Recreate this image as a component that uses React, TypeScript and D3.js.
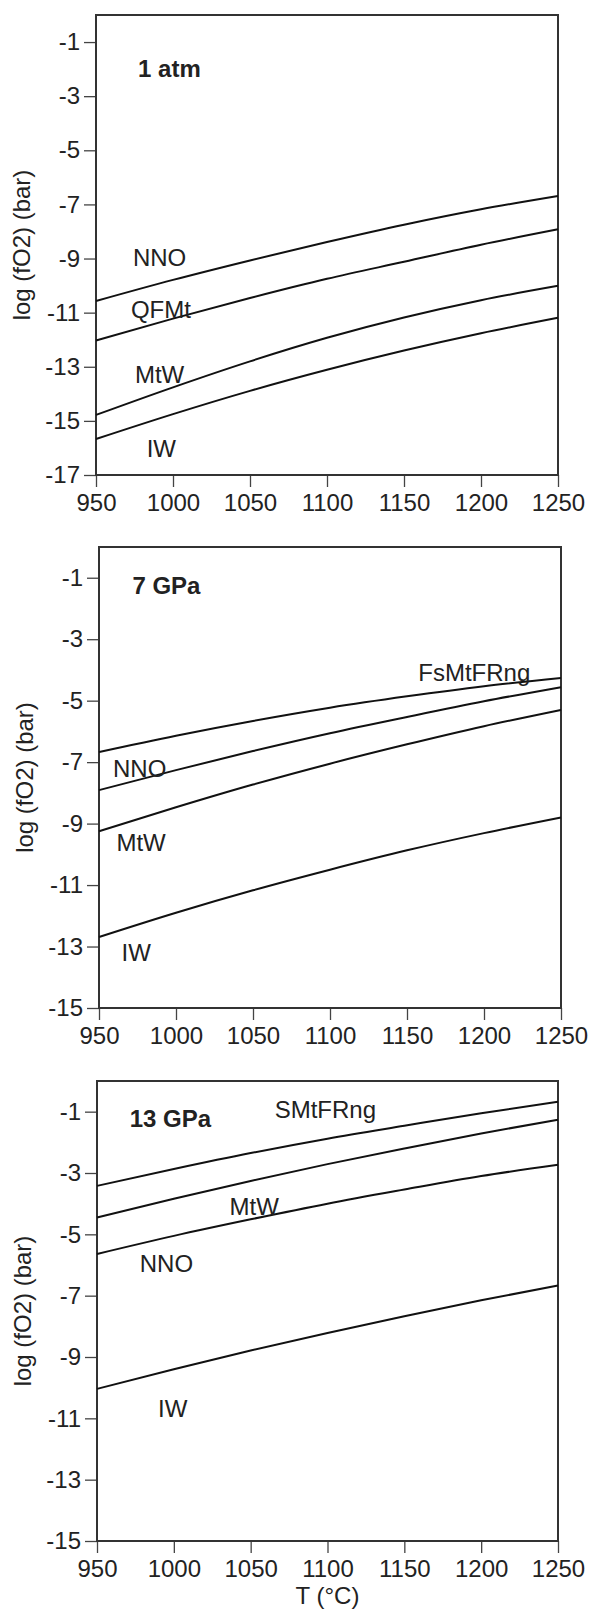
import React, { useRef, useEffect } from 'react';
import * as d3 from 'd3';

const width = 592;
const height = 1611;
const FONT = '"Liberation Sans", Arial, Helvetica, sans-serif';

// temperatures (°C) at which the buffer curves were read
const TEMPS = [950, 1000, 1050, 1100, 1150, 1200, 1250];
const X_TICKS = [950, 1000, 1050, 1100, 1150, 1200, 1250];

// 1 atm
const ATM_NNO = [-10.57, -9.79, -9.07, -8.39, -7.75, -7.18, -6.69];
const ATM_QFMT = [-12.03, -11.22, -10.46, -9.75, -9.12, -8.49, -7.92];
const ATM_MTW = [-14.78, -13.76, -12.8, -11.93, -11.18, -10.54, -10.01];
const ATM_IW = [-15.67, -14.75, -13.89, -13.11, -12.4, -11.76, -11.19];
const ATM_TICKS = [-1, -3, -5, -7, -9, -11, -13, -15, -17];

// 7 GPa
const GPA7_FSMTFRNG = [-6.67, -6.14, -5.66, -5.23, -4.86, -4.53, -4.26];
const GPA7_NNO = [-7.91, -7.26, -6.64, -6.06, -5.53, -5.02, -4.56];
const GPA7_MTW = [-9.25, -8.47, -7.73, -7.05, -6.42, -5.83, -5.3];
const GPA7_IW = [-12.69, -11.9, -11.17, -10.5, -9.87, -9.31, -8.8];

// 13 GPa
const GPA13_SMTFRNG = [-3.42, -2.87, -2.35, -1.88, -1.46, -1.05, -0.68];
const GPA13_MTW = [-4.45, -3.84, -3.26, -2.71, -2.2, -1.71, -1.26];
const GPA13_NNO = [-5.64, -5.05, -4.51, -4.0, -3.54, -3.1, -2.73];
const GPA13_IW = [-10.04, -9.4, -8.79, -8.22, -7.67, -7.15, -6.67];
const GPA_TICKS = [-1, -3, -5, -7, -9, -11, -13, -15];

// curve labels, anchored in data units (T, log fO2)
const ATM_LABELS = [
  { text: 'NNO', t: 974, v: -9.26 },
  { text: 'QFMt', t: 972.7, v: -11.21 },
  { text: 'MtW', t: 975.3, v: -13.61 },
  { text: 'IW', t: 982.9, v: -16.32 },
];
const GPA7_LABELS = [
  { text: 'FsMtFRng', t: 1157.3, v: -4.37 },
  { text: 'NNO', t: 959.1, v: -7.48 },
  { text: 'MtW', t: 961.3, v: -9.89 },
  { text: 'IW', t: 964.6, v: -13.47 },
];
const GPA13_LABELS = [
  { text: 'SMtFRng', t: 1065.6, v: -1.22 },
  { text: 'MtW', t: 1036.3, v: -4.37 },
  { text: 'NNO', t: 977.8, v: -6.22 },
  { text: 'IW', t: 989.7, v: -10.95 },
];

const panels = [
  {
    title: '1 atm', titleAt: [977.3, -2.28], yMin: -17, yTicks: ATM_TICKS,
    series: [ATM_NNO, ATM_QFMT, ATM_MTW, ATM_IW], labels: ATM_LABELS,
    frame: { left: 96, top: 15, right: 558, bottom: 475 },
  },
  {
    title: '7 GPa', titleAt: [971.7, -1.52], yMin: -15, yTicks: GPA_TICKS,
    series: [GPA7_FSMTFRNG, GPA7_NNO, GPA7_MTW, GPA7_IW], labels: GPA7_LABELS,
    frame: { left: 99, top: 547, right: 561, bottom: 1008 },
  },
  {
    title: '13 GPa', titleAt: [971.3, -1.49], yMin: -15, yTicks: GPA_TICKS,
    series: [GPA13_SMTFRNG, GPA13_MTW, GPA13_NNO, GPA13_IW], labels: GPA13_LABELS,
    frame: { left: 97, top: 1081, right: 558, bottom: 1541 },
  },
];

function drawPanel(root: SVGGElement, p: any) {
  const { left, top, right, bottom } = p.frame;
  const g = d3.select(root).append('g');

  const x = d3.scaleLinear().domain([950, 1250]).range([left, right]);
  const y = d3.scaleLinear().domain([p.yMin, 0]).range([bottom, top]);

  const yAxis = g.append('g')
    .attr('transform', `translate(${left},0)`)
    .call(d3.axisLeft(y).tickValues(p.yTicks).tickSize(12).tickPadding(4).tickFormat((d: any) => `${d}`));
  const xAxis = g.append('g')
    .attr('transform', `translate(0,${bottom})`)
    .call(d3.axisBottom(x).tickValues(X_TICKS).tickSize(12).tickPadding(7).tickFormat((d: any) => `${d}`));

  [yAxis, xAxis].forEach(a => {
    a.select('.domain').remove();
    a.attr('font-family', FONT).attr('font-size', 24);
    a.selectAll('line').attr('stroke', '#444').attr('stroke-width', 1.3);
    a.selectAll('text').attr('fill', '#222');
  });

  g.append('rect')
    .attr('x', left).attr('y', top)
    .attr('width', right - left).attr('height', bottom - top)
    .attr('fill', 'none').attr('stroke', '#333').attr('stroke-width', 2);

  const line = d3.line<number>()
    .x((_, i) => x(TEMPS[i]))
    .y(d => y(d))
    .curve(d3.curveMonotoneX);

  g.selectAll('path.curve')
    .data(p.series)
    .join('path')
    .attr('class', 'curve')
    .attr('d', (d: any) => line(d))
    .attr('fill', 'none')
    .attr('stroke', '#111')
    .attr('stroke-width', 2);

  g.selectAll('text.lbl')
    .data(p.labels)
    .join('text')
    .attr('class', 'lbl')
    .attr('x', (d: any) => x(d.t))
    .attr('y', (d: any) => y(d.v))
    .attr('font-family', FONT)
    .attr('font-size', 24)
    .attr('fill', '#222')
    .text((d: any) => d.text);

  g.append('text')
    .attr('x', x(p.titleAt[0]))
    .attr('y', y(p.titleAt[1]))
    .attr('font-family', FONT)
    .attr('font-size', 24)
    .attr('font-weight', 'bold')
    .attr('fill', '#222')
    .text(p.title);

  g.append('text')
    .attr('transform', 'rotate(-90)')
    .attr('x', -(top + bottom) / 2)
    .attr('y', left - 66)
    .attr('text-anchor', 'middle')
    .attr('font-family', FONT)
    .attr('font-size', 24)
    .attr('fill', '#222')
    .text('log (fO2) (bar)');
}

const App = () => {
  const ref = useRef<SVGGElement>(null);

  useEffect(() => {
    if (!ref.current) return;
    d3.select(ref.current).selectAll('*').remove();
    panels.forEach(p => drawPanel(ref.current as SVGGElement, p));
    const last = panels[2].frame;
    d3.select(ref.current).append('text')
      .attr('x', (last.left + last.right) / 2)
      .attr('y', 1604)
      .attr('text-anchor', 'middle')
      .attr('font-family', FONT)
      .attr('font-size', 24)
      .attr('fill', '#222')
      .text('T (°C)');
  }, [ref]);

  return (
    <svg width={width} height={height} viewBox={`0 0 ${width} ${height}`}
      style={{ position: 'absolute', left: 0, top: 0, background: '#fff' }}>
      <g ref={ref}></g>
    </svg>
  );
};

export default App;
